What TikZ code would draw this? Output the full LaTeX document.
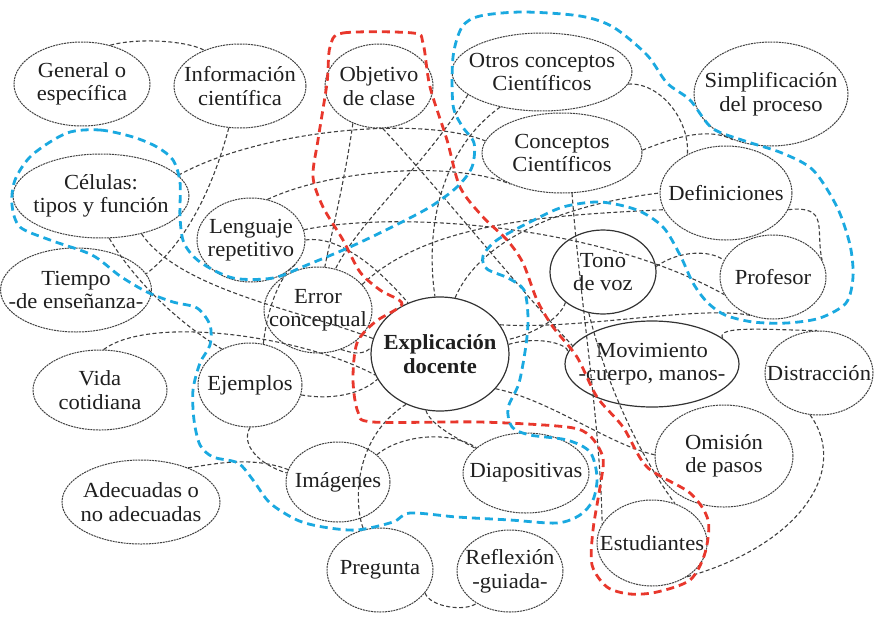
\documentclass[tikz,border=0pt]{standalone}
\usepackage{fontspec}
\setmainfont{Liberation Serif}[FakeStretch=1.05]
\usetikzlibrary{shapes.geometric}
\definecolor{redc}{HTML}{E8372C}
\definecolor{bluec}{HTML}{1AA9E0}
\definecolor{lc}{HTML}{404040}
\tikzset{
 bub/.style={ellipse, draw=lc, dash pattern=on 2pt off 0.8pt, line width=1pt, inner xsep=-14pt, inner ysep=-8pt, align=center, font=\fontsize{21.5}{23.5}\selectfont, text=black!88},
 sbub/.style={bub, solid, line width=1.2pt, draw=black!80},
 conn/.style={draw=lc, dash pattern=on 4pt off 2.5pt, line width=1.1pt},
 zone/.style={line width=2.8pt, dash pattern=on 8pt off 5pt},
}
\begin{document}
\begin{tikzpicture}[x=1pt,y=-1pt]
\useasboundingbox (0,0) rectangle (874,616);
% nodes
\node[bub, minimum width=136pt, minimum height=84pt] (gen) at (82,84) {General o\\específica};
\node[bub, minimum width=132pt, minimum height=84pt] (inf) at (240,86) {Información\\científica};
\node[bub, minimum width=108pt, minimum height=84pt] (obj) at (379,86) {Objetivo\\de clase};
\node[bub, minimum width=180pt, minimum height=78pt] (otr) at (542,72) {Otros conceptos\\Científicos};
\node[bub, minimum width=154pt, minimum height=104pt] (sim) at (771,94) {Simplificación\\del proceso};
\node[bub, minimum width=160pt, minimum height=80pt] (con) at (562,153) {Conceptos\\Científicos};
\node[bub, minimum width=132pt, minimum height=94pt] (def) at (726,193) {Definiciones};
\node[bub, minimum width=176pt, minimum height=84pt] (cel) at (101,196) {Células:\\tipos y función};
\node[bub, minimum width=108pt, minimum height=84pt] (len) at (251,240) {Lenguaje\\repetitivo};
\node[bub, minimum width=138pt, minimum height=84pt] (tie) at (76,290) {Tiempo\\-de enseñanza-};
\node[sbub, minimum width=106pt, minimum height=84pt] (ton) at (603,272) {Tono\\de voz};
\node[bub, minimum width=106pt, minimum height=84pt] (pro) at (773,277) {Profesor};
\node[bub, minimum width=108pt, minimum height=86pt] (err) at (318,310) {Error\\conceptual};
\node[sbub, minimum width=138pt, minimum height=114pt, font=\fontsize{21.5}{23.5}\selectfont\bfseries] (exp) at (440,354) {Explicación\\docente};
\node[sbub, minimum width=174pt, minimum height=86pt] (mov) at (652,364) {Movimiento\\-cuerpo, manos-};
\node[bub, minimum width=108pt, minimum height=84pt] (dis) at (819,373) {Distracción};
\node[bub, minimum width=134pt, minimum height=80pt] (vid) at (100,390) {Vida\\cotidiana};
\node[bub, minimum width=104pt, minimum height=84pt] (eje) at (250,385) {Ejemplos};
\node[bub, minimum width=138pt, minimum height=102pt] (omi) at (724,456) {Omisión\\de pasos};
\node[bub, minimum width=158pt, minimum height=84pt] (ade) at (141,502) {Adecuadas o\\no adecuadas};
\node[bub, minimum width=104pt, minimum height=80pt] (ima) at (338,482) {Imágenes};
\node[bub, minimum width=126pt, minimum height=80pt] (dia) at (526,473) {Diapositivas};
\node[bub, minimum width=106pt, minimum height=84pt] (pre) at (380,570) {Pregunta};
\node[bub, minimum width=106pt, minimum height=82pt] (ref) at (510,571) {Reflexión\\-guiada-};
\node[bub, minimum width=110pt, minimum height=86pt] (est) at (652,543) {Estudiantes};
% connectors
\draw[conn] (gen.54) .. controls (135,38) and (185,40) .. (inf.135);
\draw[conn] (inf.-105) .. controls (215,180) and (190,240) .. (tie.13);
\draw[conn] (cel.15) .. controls (260,130) and (420,115) .. (con.171);
\draw[conn] (len.68) .. controls (330,170) and (450,160) .. (con.-149);
\draw[conn] (obj.-125) .. controls (345,180) and (330,240) .. (err.81);
\draw[conn] (obj.-85) .. controls (440,190) and (520,290) .. (mov.167);
\draw[conn] (otr.-163) .. controls (430,160) and (360,220) .. (err.67);
\draw[conn] (otr.-8) .. controls (660,82) and (690,120) .. (def.135);
\draw[conn] (con.2) .. controls (680,135) and (710,128) .. (sim.-130);
\draw[conn] (con.-76) .. controls (580,300) and (600,420) .. (est.159);
\draw[conn] (ton.-109) .. controls (610,400) and (650,470) .. (est.60);
\draw[conn] (exp.-32) .. controls (550,400) and (610,445) .. (omi.179);
\draw[conn] (mov.20) .. controls (715,325) and (770,330) .. (dis.93);
\draw[conn] (dis.-102) .. controls (850,470) and (800,545) .. (est.-44);
\draw[conn] (def.-15) .. controls (830,205) and (815,230) .. (pro.19);
\draw[conn] (ton.6) .. controls (680,250) and (710,250) .. (pro.161);
\draw[conn] (len.11) .. controls (400,210) and (600,225) .. (pro.-160);
\draw[conn] (cel.-43) .. controls (180,290) and (300,310) .. (exp.167);
\draw[conn] (cel.-79) .. controls (140,290) and (190,330) .. (eje.128);
\draw[conn] (vid.85) .. controls (150,315) and (300,335) .. (exp.-162);
\draw[conn] (eje.72) .. controls (268,300) and (285,270) .. (len.-30);
\draw[conn] (eje.-11) .. controls (330,400) and (360,395) .. (exp.-158);
\draw[conn] (eje.-90) .. controls (240,445) and (260,465) .. (ima.170);
\draw[conn] (ade.36) .. controls (210,465) and (250,455) .. (ima.166);
\draw[conn] (ima.35) .. controls (400,435) and (450,430) .. (dia.153);
\draw[conn] (exp.-104) .. controls (430,425) and (460,440) .. (dia.154);
\draw[conn] (exp.-124) .. controls (350,440) and (355,510) .. (pre.112);
\draw[conn] (pre.-27) .. controls (430,607) and (465,612) .. (ref.-136);
\draw[conn] (len.0) .. controls (340,235) and (380,270) .. (exp.122);
\draw[conn] (exp.26) .. controls (580,330) and (700,305) .. (pro.-121);
\draw[conn] (exp.75) .. controls (480,240) and (560,205) .. (def.180);
\draw[conn] (err.30) .. controls (430,220) and (560,215) .. (def.-165);
\draw[conn] (otr.-140) .. controls (440,150) and (425,230) .. (exp.95);
\draw[conn] (ton.-141) .. controls (560,320) and (530,335) .. (exp.12);
\draw[conn] (exp.8) .. controls (540,335) and (570,345) .. (mov.172);
\draw[conn] (err.-60) .. controls (345,350) and (360,358) .. (exp.175);
% zones
\draw[zone, redc] plot[smooth cycle, tension=0.5] coordinates {
 (330,47) (343,33) (413,33) (423,43) (430,87) (447,140) (460,187) (483,217)
 (507,240) (523,263) (537,300) (553,327) (577,357) (597,397) (623,427) (647,467)
 (690,493) (708,520) (705,553) (690,580) (657,592) (630,594) (607,587) (592,565)
 (593,530) (600,487) (603,458) (590,436) (567,427) (480,422) (373,422) (358,412)
 (353,380) (357,343) (375,322) (402,304) (380,290) (360,272) (343,240) (323,207)
 (313,177) (318,140) (327,83)};
\draw[zone, bluec] plot[smooth cycle, tension=0.5] coordinates {
 (67,133) (100,130) (133,137) (157,147) (173,160) (180,182) (180,217) (184,243)
 (200,262) (233,278) (273,278) (307,265) (350,247) (390,228) (430,207) (457,187)
 (472,167) (474,143) (462,126) (453,105) (453,57) (462,27) (480,16) (523,12)
 (580,16) (613,27) (647,55) (667,83) (690,100) (712,128) (745,141) (782,153)
 (813,170) (837,207) (850,245) (853,277) (846,303) (820,318) (787,323) (753,322)
 (725,315) (707,302) (693,283) (680,255) (663,227) (637,210) (600,202) (563,207)
 (530,222) (497,240) (483,256) (487,269) (508,278) (524,290) (528,317) (526,345)
 (519,383) (508,408) (512,427) (530,435) (567,440) (590,452) (597,477) (593,500)
 (580,515) (557,523) (510,520) (457,517) (410,513) (393,522) (357,530) (323,527)
 (297,520) (270,503) (253,480) (238,463) (213,457) (200,445) (194,420) (193,390)
 (200,363) (210,345) (210,325) (197,308) (173,302) (147,292) (120,276) (92,255)
 (50,240) (20,227) (12,205) (15,180) (32,155)};
\end{tikzpicture}
\end{document}
